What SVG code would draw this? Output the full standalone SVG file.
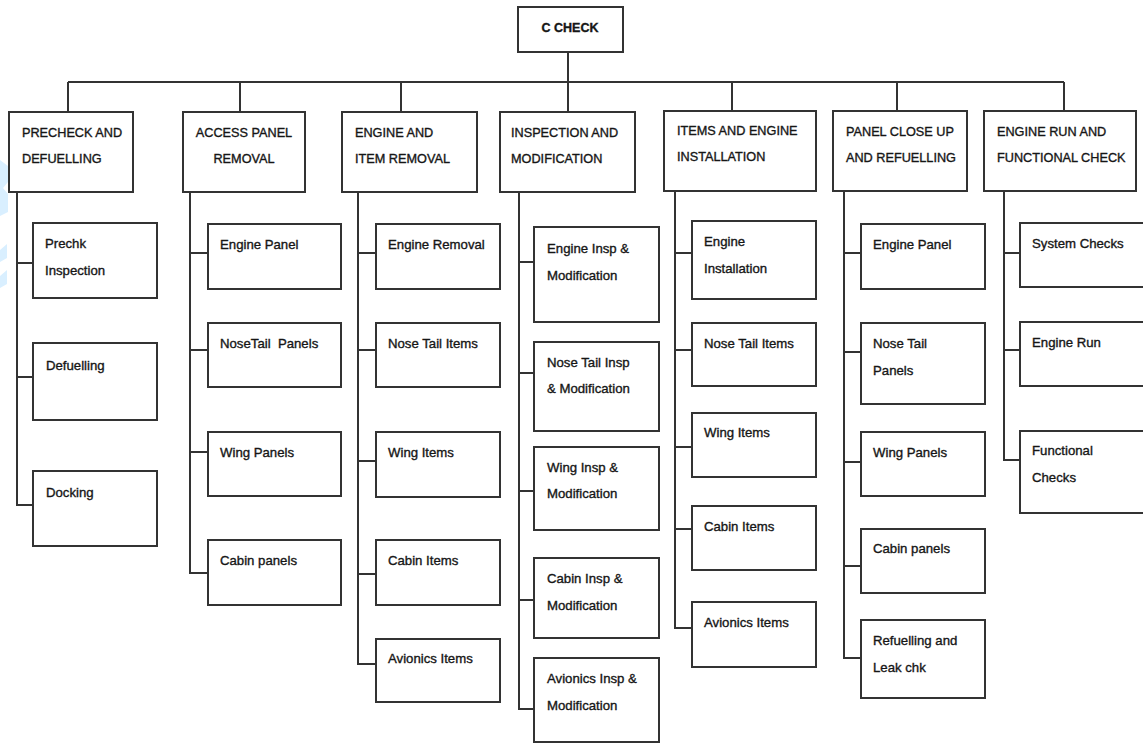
<svg xmlns="http://www.w3.org/2000/svg" width="1143" height="745" viewBox="0 0 1143 745">
<style>
.bx{fill:#fff;stroke:#333;stroke-width:2}
.ln{fill:none;stroke:#333;stroke-width:2}
text{font-family:"Liberation Sans",Arial,sans-serif;fill:#161616;stroke:#161616;stroke-width:0.35}
.h{font-size:12.7px}
.c{font-size:13.2px}
.t{font-size:12.5px;font-weight:bold}
.m{text-anchor:middle}
.wm{fill:#d9efff}
</style>
<rect width="1143" height="745" fill="#fff"/>
<path class="wm" d="M0,160L8,166V182L3,188L8,194V212L0,216ZM0,250L7,244V258L0,262ZM0,276L7,270V284L0,288Z"/>
<g id="connectors">
<path class="ln" d="M568,52V82M68,82H1064M68,82V112M240,82V112M401,82V112M568,82V112M732,82V112M897,82V112M1064,82V112"/>
<path class="ln" d="M17,192V505H33M17,263H33M17,377H33"/>
<path class="ln" d="M190,192V573H208M190,253H208M190,350H208M190,452H208"/>
<path class="ln" d="M358,192V664H376M358,253H376M358,350H376M358,461H376M358,574H376"/>
<path class="ln" d="M519,192V709H534M519,262H534M519,373H534M519,491H534M519,600H534"/>
<path class="ln" d="M675,191V628H692M675,253H692M675,350H692M675,447H692M675,529H692"/>
<path class="ln" d="M844,191V658H861M844,253H861M844,352H861M844,462H861M844,566H861"/>
<path class="ln" d="M1004,191V460H1020M1004,253H1020M1004,350H1020"/>
</g>
<g id="c-check"><rect class="bx" x="518" y="7" width="105" height="45"/><text class="t m" x="570" y="32">C CHECK</text></g>

<g id="precheck"><rect class="bx" x="9" y="112" width="124" height="80"/><text class="h" x="22" y="137">PRECHECK AND</text><text class="h" x="22" y="163">DEFUELLING</text></g>
<g id="access"><rect class="bx" x="183" y="112" width="122" height="80"/><text class="h m" x="244" y="137">ACCESS PANEL</text><text class="h m" x="244" y="163">REMOVAL</text></g>
<g id="removal"><rect class="bx" x="342" y="112" width="135" height="80"/><text class="h" x="355" y="137">ENGINE AND</text><text class="h" x="355" y="163">ITEM REMOVAL</text></g>
<g id="inspection"><rect class="bx" x="500" y="112" width="135" height="80"/><text class="h" x="511" y="137">INSPECTION AND</text><text class="h" x="511" y="163">MODIFICATION</text></g>
<g id="installation"><rect class="bx" x="664" y="111" width="152" height="80"/><text class="h" x="677" y="135">ITEMS AND ENGINE</text><text class="h" x="677" y="161">INSTALLATION</text></g>
<g id="closeup"><rect class="bx" x="833" y="111" width="134" height="80"/><text class="h" x="846" y="136">PANEL CLOSE UP</text><text class="h" x="846" y="162">AND REFUELLING</text></g>
<g id="enginerun"><rect class="bx" x="984" y="111" width="152" height="80"/><text class="h" x="997" y="136">ENGINE RUN AND</text><text class="h" x="997" y="162">FUNCTIONAL CHECK</text></g>

<g id="prechk-insp"><rect class="bx" x="33" y="223" width="124" height="75"/><text class="c" x="45" y="248">Prechk</text><text class="c" x="45" y="275">Inspection</text></g>
<g id="defuelling"><rect class="bx" x="33" y="343" width="124" height="77"/><text class="c" x="46" y="370">Defuelling</text></g>
<g id="docking"><rect class="bx" x="33" y="471" width="124" height="75"/><text class="c" x="46" y="497">Docking</text></g>

<g id="ap-engine"><rect class="bx" x="208" y="224" width="133" height="65"/><text class="c" x="220" y="249">Engine Panel</text></g>
<g id="ap-nosetail"><rect class="bx" x="208" y="323" width="133" height="64"/><text class="c" x="220" y="348">NoseTail&#160; Panels</text></g>
<g id="ap-wing"><rect class="bx" x="208" y="432" width="133" height="64"/><text class="c" x="220" y="457">Wing Panels</text></g>
<g id="ap-cabin"><rect class="bx" x="208" y="540" width="133" height="65"/><text class="c" x="220" y="565">Cabin panels</text></g>

<g id="er-engine"><rect class="bx" x="376" y="224" width="124" height="65"/><text class="c" x="388" y="249">Engine Removal</text></g>
<g id="er-nosetail"><rect class="bx" x="376" y="323" width="124" height="64"/><text class="c" x="388" y="348">Nose Tail Items</text></g>
<g id="er-wing"><rect class="bx" x="376" y="432" width="124" height="65"/><text class="c" x="388" y="457">Wing Items</text></g>
<g id="er-cabin"><rect class="bx" x="376" y="540" width="124" height="65"/><text class="c" x="388" y="565">Cabin Items</text></g>
<g id="er-avionics"><rect class="bx" x="376" y="639" width="124" height="63"/><text class="c" x="388" y="663">Avionics Items</text></g>

<g id="im-engine"><rect class="bx" x="534" y="227" width="125" height="95"/><text class="c" x="547" y="253">Engine Insp &amp;</text><text class="c" x="547" y="280">Modification</text></g>
<g id="im-nosetail"><rect class="bx" x="534" y="342" width="125" height="89"/><text class="c" x="547" y="367">Nose Tail Insp</text><text class="c" x="547" y="393">&amp; Modification</text></g>
<g id="im-wing"><rect class="bx" x="534" y="447" width="125" height="83"/><text class="c" x="547" y="472">Wing Insp &amp;</text><text class="c" x="547" y="498">Modification</text></g>
<g id="im-cabin"><rect class="bx" x="534" y="558" width="125" height="80"/><text class="c" x="547" y="583">Cabin Insp &amp;</text><text class="c" x="547" y="610">Modification</text></g>
<g id="im-avionics"><rect class="bx" x="534" y="658" width="125" height="84"/><text class="c" x="547" y="683">Avionics Insp &amp;</text><text class="c" x="547" y="710">Modification</text></g>

<g id="in-engine"><rect class="bx" x="692" y="221" width="124" height="78"/><text class="c" x="704" y="246">Engine</text><text class="c" x="704" y="273">Installation</text></g>
<g id="in-nosetail"><rect class="bx" x="692" y="323" width="124" height="63"/><text class="c" x="704" y="348">Nose Tail Items</text></g>
<g id="in-wing"><rect class="bx" x="692" y="413" width="124" height="64"/><text class="c" x="704" y="437">Wing Items</text></g>
<g id="in-cabin"><rect class="bx" x="692" y="506" width="124" height="64"/><text class="c" x="704" y="531">Cabin Items</text></g>
<g id="in-avionics"><rect class="bx" x="692" y="602" width="124" height="65"/><text class="c" x="704" y="627">Avionics Items</text></g>

<g id="cu-engine"><rect class="bx" x="861" y="224" width="124" height="65"/><text class="c" x="873" y="249">Engine Panel</text></g>
<g id="cu-nosetail"><rect class="bx" x="861" y="323" width="124" height="81"/><text class="c" x="873" y="348">Nose Tail</text><text class="c" x="873" y="375">Panels</text></g>
<g id="cu-wing"><rect class="bx" x="861" y="432" width="124" height="64"/><text class="c" x="873" y="457">Wing Panels</text></g>
<g id="cu-cabin"><rect class="bx" x="861" y="529" width="124" height="64"/><text class="c" x="873" y="553">Cabin panels</text></g>
<g id="cu-refuel"><rect class="bx" x="861" y="620" width="124" height="78"/><text class="c" x="873" y="645">Refuelling and</text><text class="c" x="873" y="672">Leak chk</text></g>

<g id="fc-system"><rect class="bx" x="1020" y="223" width="130" height="64"/><text class="c" x="1032" y="248">System Checks</text></g>
<g id="fc-run"><rect class="bx" x="1020" y="322" width="130" height="64"/><text class="c" x="1032" y="347">Engine Run</text></g>
<g id="fc-functional"><rect class="bx" x="1020" y="431" width="130" height="82"/><text class="c" x="1032" y="455">Functional</text><text class="c" x="1032" y="482">Checks</text></g>
</svg>
